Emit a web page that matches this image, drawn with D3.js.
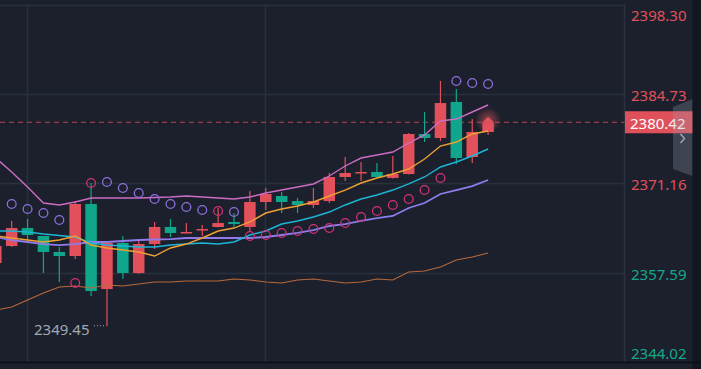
<!DOCTYPE html>
<html><head><meta charset="utf-8">
<script src="https://cdn.jsdelivr.net/npm/d3@7"></script>
<style>html,body{margin:0;padding:0;background:#1b202c;overflow:hidden}</style>
</head><body>
<svg id="c" width="701" height="369"></svg>
<script>
// ---- data ----
const bars  = d3.range(32);
const open  = [2359.05,2361.63,2364.36,2363.15,2360.72,2360.11,2368.01,2355.10,2362.09,2357.53,2361.93,2364.52,2363.61,2364.14,2364.52,2365.28,2364.52,2368.31,2369.22,2368.46,2367.86,2368.46,2372.11,2372.72,2372.87,2371.96,2372.56,2378.64,2378.03,2383.50,2375.14,2378.94];
const high  = [2361.93,2365.43,2365.73,2363.15,2361.48,2368.46,2371.20,2362.24,2363.15,2362.54,2365.28,2365.73,2365.12,2364.82,2367.40,2366.64,2369.98,2370.44,2369.83,2368.92,2370.44,2372.72,2375.14,2374.39,2374.23,2375.30,2378.79,2381.98,2386.68,2385.47,2380.91,2380.76];
const low   = [2358.75,2361.48,2362.54,2357.53,2356.16,2359.66,2354.04,2349.45,2356.62,2357.38,2361.18,2363.00,2363.53,2363.15,2364.44,2364.52,2363.91,2367.10,2366.64,2366.64,2367.40,2368.16,2371.50,2371.50,2372.03,2371.88,2372.49,2377.42,2377.57,2374.08,2374.23,2378.49];
const close = [2361.63,2364.36,2363.30,2360.72,2360.11,2368.01,2354.80,2362.09,2357.53,2361.93,2364.52,2363.61,2363.76,2364.21,2365.12,2364.97,2368.31,2369.53,2368.31,2367.86,2368.46,2372.11,2372.72,2372.87,2372.11,2372.56,2378.64,2378.03,2383.34,2374.99,2378.94,2380.42];
const sar   = [null,2368.01,2367.25,2366.64,2365.58,2356.01,2371.20,2371.35,2370.44,2369.68,2368.77,2368.01,2367.55,2367.10,2366.95,2366.79,2363.15,2363.30,2363.61,2363.91,2364.21,2364.36,2365.12,2366.03,2366.95,2367.86,2368.77,2370.13,2371.96,2386.68,2386.38,2386.23];
const bandUpper = [2374.99,2372.87,2370.59,2368.16,2367.86,2368.31,2368.92,2368.92,2368.92,2368.92,2369.00,2369.07,2369.22,2369.07,2368.92,2368.77,2369.07,2369.68,2370.13,2370.59,2371.05,2372.26,2373.78,2374.99,2375.45,2375.90,2377.27,2378.49,2380.61,2380.91,2381.98,2383.04];
const maFast = [2363.15,2362.85,2362.54,2362.24,2362.54,2363.15,2361.78,2361.33,2361.02,2360.72,2360.11,2361.33,2361.93,2362.85,2363.91,2364.36,2365.28,2366.64,2367.25,2367.71,2368.31,2369.22,2370.13,2371.20,2371.96,2372.56,2373.32,2374.84,2376.81,2377.42,2378.64,2379.09];
const maMid  = [2363.91,2363.91,2363.76,2363.45,2363.22,2363.00,2362.09,2361.78,2361.63,2361.48,2361.48,2361.78,2361.93,2362.09,2361.93,2362.24,2363.30,2363.91,2364.97,2365.43,2366.03,2366.79,2367.86,2368.77,2369.38,2370.13,2371.05,2372.11,2373.63,2374.39,2375.30,2376.36];
const maSlow = [2363.00,2362.54,2362.24,2361.93,2361.78,2361.93,2362.24,2362.24,2362.39,2362.54,2362.62,2362.69,2362.85,2362.85,2362.85,2362.85,2362.85,2363.00,2363.30,2363.61,2364.06,2364.67,2364.97,2365.43,2365.88,2366.19,2367.40,2368.16,2369.53,2370.13,2370.74,2371.65];
const maLong = [2351.91,2352.37,2353.43,2354.49,2355.41,2355.56,2355.25,2355.71,2355.56,2355.86,2356.16,2356.16,2356.32,2356.32,2356.32,2356.62,2356.47,2356.16,2356.01,2356.47,2356.62,2356.32,2356.01,2356.16,2356.62,2356.47,2357.69,2357.84,2358.44,2359.50,2359.96,2360.57];
const priceTicks = [2398.30,2384.73,2371.16,2357.59,2344.02];
const timeGrid = [2,17];
const lastPrice = 2380.42;
const minPrice = 2349.45;
const minBar = 7;
const refPrice = 2364.5;

// ---- layout ----
const W=701,H=369, plotR=624.5, plotB=362;
const svg=d3.select('#c');
const x=d3.scaleLinear().domain([0,31]).range([-4.2,488.1]);
const y=d3.scaleLinear().domain([2344.02,2398.30]).range([362,4.5]);
const UP='#e2505b', DN='#10a68b';
const cw=11.5;

svg.append('rect').attr('width',W).attr('height',H).attr('fill','#1b202c');

// grid
const g=svg.append('g');
g.selectAll('line.h').data(priceTicks.slice(0,4)).join('line')
  .attr('x1',0).attr('x2',plotR).attr('y1',d=>Math.round(y(d))+0.5).attr('y2',d=>Math.round(y(d))+0.5)
  .attr('stroke','#28303d').attr('stroke-width',1.5);
g.selectAll('line.v').data(timeGrid).join('line')
  .attr('x1',d=>Math.round(x(d))-0.5).attr('x2',d=>Math.round(x(d))-0.5).attr('y1',4.5).attr('y2',plotB)
  .attr('stroke','#28303d').attr('stroke-width',1.5);
svg.append('line').attr('x1',plotR).attr('x2',plotR).attr('y1',4).attr('y2',plotB)
  .attr('stroke','#2a3240').attr('stroke-width',1.5);

// last price dashed line
svg.append('line').attr('x1',0).attr('x2',plotR).attr('y1',y(lastPrice)).attr('y2',y(lastPrice))
  .attr('stroke','#b8444f').attr('stroke-width',1).attr('stroke-dasharray','5,4');

// glow for last bar
const defs=svg.append('defs');
const rg=defs.append('radialGradient').attr('id','glow');
rg.append('stop').attr('offset','0%').attr('stop-color','#ff5a66').attr('stop-opacity',0.55);
rg.append('stop').attr('offset','100%').attr('stop-color','#ff5a66').attr('stop-opacity',0);
svg.append('circle').attr('cx',x(31)).attr('cy',y(lastPrice)-2).attr('r',13).attr('fill','url(#glow)');

// candles
const cg=svg.append('g');
bars.forEach(i=>{
  const up=close[i]>=open[i], col=up?UP:DN;
  const cx=x(i);
  cg.append('line').attr('x1',cx).attr('x2',cx).attr('y1',y(high[i])).attr('y2',y(low[i]))
    .attr('stroke',col).attr('stroke-width',1.2);
  const t=y(Math.max(open[i],close[i])), b=y(Math.min(open[i],close[i]));
  cg.append('rect').attr('x',cx-cw/2).attr('y',t).attr('width',cw).attr('height',Math.max(1.5,b-t)).attr('fill',col);
});
// pointer on last bar
const lx=x(31), ly=y(lastPrice);
svg.append('path').attr('d',`M${lx-cw/2},${ly} L${lx},${ly-5.5} L${lx+cw/2},${ly} Z`).attr('fill',UP);

// indicator lines
const line=(arr)=>d3.line().x((d,i)=>x(i)).y(d=>y(d))(arr);
const lines=[[maLong,'#b8693a',1.1],[maSlow,'#8f7bea',1.8],[maMid,'#1cb6d6',1.4],[maFast,'#f0a032',1.4],[bandUpper,'#cc6cc4',1.4]];
lines.forEach(([arr,c,w])=>svg.append('path').attr('d',line(arr)).attr('fill','none').attr('stroke',c).attr('stroke-width',w));

// SAR circles
svg.append('g').selectAll('circle').data(bars.filter(i=>sar[i]!=null)).join('circle')
  .attr('cx',i=>x(i)).attr('cy',i=>y(sar[i])).attr('r',4.4).attr('fill','none')
  .attr('stroke',i=>sar[i]>high[i]?'#8e70de':'#d4307a').attr('stroke-width',1.3);

// min label
svg.append('text').attr('x',34).attr('y',y(minPrice)+3).attr('dominant-baseline','central')
  .attr('font-family','Noto Sans, sans-serif').attr('font-size',15).attr('fill','#a3a8b2').text(minPrice.toFixed(2));
svg.append('line').attr('x1',94).attr('x2',x(minBar)-1).attr('y1',y(minPrice)-0.5).attr('y2',y(minPrice)-0.5)
  .attr('stroke','#a3a8b2').attr('stroke-width',1).attr('stroke-dasharray','1,2');

// right axis labels
svg.append('g').selectAll('text').data(priceTicks).join('text')
  .attr('x',631).attr('y',(d,i)=>i===0?14.5:(i===priceTicks.length-1?352.5:y(d)+1))
  .attr('dominant-baseline','central').attr('font-family','Noto Sans, sans-serif').attr('font-size',15)
  .attr('fill',d=>d>=refPrice?'#e0505a':'#14a88d').text(d=>d.toFixed(2));

// last price tag
svg.append('rect').attr('x',625).attr('y',y(lastPrice)-11).attr('width',68).attr('height',22).attr('fill','#e0505a');
svg.append('text').attr('x',630).attr('y',y(lastPrice)+0.5).attr('dominant-baseline','central')
  .attr('font-family','Noto Sans, sans-serif').attr('font-size',15).attr('fill','#ffffff').text(lastPrice.toFixed(2));

// side tab
svg.append('path').attr('d','M673,107 L692.5,99 L692.5,176 L673,169 Z').attr('fill','rgba(150,158,175,0.28)');
svg.append('path').attr('d','M680.5,134 L684.5,138.5 L680.5,143').attr('fill','none').attr('stroke','#a0a6b2').attr('stroke-width',1.5);

// right strip and bottom border
svg.append('rect').attr('x',692.5).attr('y',0).attr('width',9).attr('height',H).attr('fill','#12161f');
svg.append('line').attr('x1',0).attr('x2',W).attr('y1',362.5).attr('y2',362.5).attr('stroke','#0b0e13').attr('stroke-width',1.5);
</script>
</body></html>
